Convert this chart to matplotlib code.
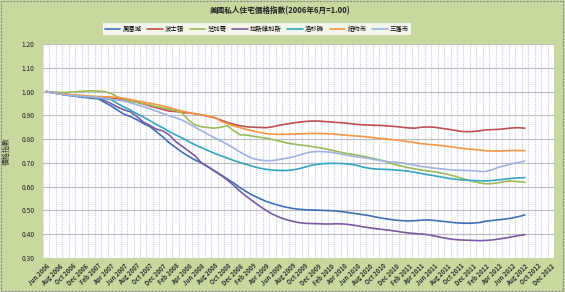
import matplotlib
matplotlib.use("Agg")
import matplotlib.pyplot as plt
from matplotlib.patches import Rectangle
from matplotlib.ticker import FixedLocator, MultipleLocator

plt.rcParams['font.family'] = ['Noto Sans CJK TC', 'DejaVu Sans']

title = "美國私人住宅價格指數(2006年6月=1.00)"
ylabel = "價格指數"

# category axis: Jun 2006 .. Dec 2012 (79 months); labels every 2nd month
tick_labels = ["Jun 2006", "Aug 2006", "Oct 2006", "Dec 2006",
               "Feb 2007", "Apr 2007", "Jun 2007", "Aug 2007", "Oct 2007", "Dec 2007",
               "Feb 2008", "Apr 2008", "Jun 2008", "Aug 2008", "Oct 2008", "Dec 2008",
               "Feb 2009", "Apr 2009", "Jun 2009", "Aug 2009", "Oct 2009", "Dec 2009",
               "Feb 2010", "Apr 2010", "Jun 2010", "Aug 2010", "Oct 2010", "Dec 2010",
               "Feb 2011", "Apr 2011", "Jun 2011", "Aug 2011", "Oct 2011", "Dec 2011",
               "Feb 2012", "Apr 2012", "Jun 2012", "Aug 2012", "Oct 2012", "Dec 2012"]
n_categories = 79

series_names = ["鳳凰城", "波士頓", "芝加哥", "拉斯維加斯", "洛杉磯", "紐約市", "三藩市"]

phoenix = [1.000, 0.995, 0.990, 0.985, 0.982, 0.978, 0.975, 0.972, 0.970, 0.955,
           0.940, 0.922, 0.905, 0.895, 0.882, 0.866, 0.853, 0.832, 0.810, 0.785,
           0.765, 0.745, 0.728, 0.712, 0.700, 0.684, 0.667, 0.650, 0.632, 0.615,
           0.595, 0.578, 0.563, 0.550, 0.538, 0.529, 0.521, 0.514, 0.509, 0.505,
           0.503, 0.502, 0.501, 0.500, 0.499, 0.497, 0.494, 0.490, 0.486, 0.482,
           0.478, 0.472, 0.467, 0.463, 0.459, 0.457, 0.456, 0.457, 0.459, 0.460,
           0.458, 0.455, 0.452, 0.449, 0.447, 0.446, 0.447, 0.449, 0.455, 0.458,
           0.461, 0.464, 0.468, 0.474, 0.481]

boston = [1.000, 0.995, 0.990, 0.987, 0.984, 0.982, 0.980, 0.978, 0.976, 0.975,
          0.973, 0.970, 0.966, 0.960, 0.955, 0.948, 0.940, 0.932, 0.925, 0.918,
          0.916, 0.912, 0.910, 0.907, 0.902, 0.896, 0.890, 0.880, 0.870, 0.862,
          0.856, 0.852, 0.850, 0.849, 0.848, 0.852, 0.858, 0.863, 0.867, 0.871,
          0.874, 0.876, 0.876, 0.874, 0.872, 0.870, 0.868, 0.865, 0.862, 0.860,
          0.859, 0.858, 0.857, 0.855, 0.853, 0.850, 0.847, 0.846, 0.850, 0.851,
          0.850, 0.846, 0.842, 0.838, 0.833, 0.831, 0.832, 0.835, 0.839, 0.840,
          0.841, 0.844, 0.847, 0.848, 0.846]

chicago = [1.000, 0.998, 0.996, 0.996, 0.998, 1.000, 1.002, 1.003, 1.002, 1.000,
           0.992, 0.978, 0.968, 0.960, 0.955, 0.950, 0.944, 0.937, 0.932, 0.926,
           0.920, 0.910, 0.880, 0.860, 0.852, 0.849, 0.846, 0.850, 0.856, 0.835,
           0.818, 0.817, 0.812, 0.808, 0.804, 0.798, 0.792, 0.785, 0.780, 0.776,
           0.773, 0.769, 0.765, 0.760, 0.754, 0.748, 0.742, 0.737, 0.733, 0.728,
           0.722, 0.716, 0.710, 0.700, 0.692, 0.686, 0.680, 0.675, 0.670, 0.666,
           0.663, 0.658, 0.652, 0.645, 0.637, 0.629, 0.622, 0.616, 0.612, 0.613,
           0.617, 0.622, 0.624, 0.621, 0.618]

las_vegas = [1.000, 0.996, 0.992, 0.988, 0.985, 0.982, 0.979, 0.976, 0.974, 0.962,
             0.950, 0.935, 0.923, 0.915, 0.895, 0.872, 0.858, 0.842, 0.835, 0.818,
             0.790, 0.770, 0.750, 0.730, 0.700, 0.683, 0.666, 0.648, 0.628, 0.605,
             0.580, 0.558, 0.538, 0.518, 0.500, 0.484, 0.472, 0.462, 0.455, 0.449,
             0.446, 0.445, 0.444, 0.443, 0.443, 0.444, 0.443, 0.440, 0.436, 0.431,
             0.427, 0.423, 0.420, 0.417, 0.413, 0.409, 0.405, 0.403, 0.401, 0.398,
             0.393, 0.387, 0.382, 0.378, 0.376, 0.375, 0.374, 0.373, 0.374, 0.376,
             0.380, 0.384, 0.389, 0.394, 0.398]

los_angeles = [1.000, 0.996, 0.992, 0.988, 0.985, 0.982, 0.979, 0.976, 0.974, 0.970,
               0.966, 0.950, 0.935, 0.922, 0.907, 0.893, 0.878, 0.862, 0.848, 0.832,
               0.818, 0.805, 0.790, 0.776, 0.764, 0.752, 0.740, 0.730, 0.720, 0.710,
               0.701, 0.693, 0.685, 0.678, 0.673, 0.670, 0.668, 0.668, 0.670, 0.675,
               0.682, 0.690, 0.694, 0.697, 0.698, 0.698, 0.697, 0.694, 0.690, 0.682,
               0.677, 0.674, 0.673, 0.672, 0.670, 0.668, 0.665, 0.660, 0.655, 0.650,
               0.646, 0.641, 0.636, 0.632, 0.629, 0.627, 0.626, 0.625, 0.624, 0.626,
               0.629, 0.632, 0.635, 0.637, 0.638]

new_york = [1.000, 0.996, 0.992, 0.989, 0.987, 0.985, 0.983, 0.981, 0.979, 0.978,
            0.977, 0.975, 0.972, 0.967, 0.961, 0.956, 0.951, 0.946, 0.940, 0.933,
            0.925, 0.918, 0.912, 0.906, 0.902, 0.898, 0.892, 0.875, 0.865, 0.855,
            0.848, 0.840, 0.834, 0.828, 0.823, 0.821, 0.820, 0.820, 0.821, 0.822,
            0.823, 0.824, 0.824, 0.823, 0.822, 0.820, 0.817, 0.815, 0.813, 0.811,
            0.808, 0.805, 0.802, 0.799, 0.796, 0.793, 0.789, 0.785, 0.781, 0.778,
            0.776, 0.773, 0.770, 0.766, 0.762, 0.759, 0.757, 0.754, 0.751, 0.750,
            0.750, 0.751, 0.752, 0.752, 0.751]

san_francisco = [1.000, 0.995, 0.990, 0.986, 0.983, 0.981, 0.979, 0.977, 0.975, 0.972,
                 0.968, 0.964, 0.960, 0.953, 0.945, 0.937, 0.928, 0.918, 0.908, 0.898,
                 0.890, 0.880, 0.866, 0.850, 0.835, 0.820, 0.806, 0.792, 0.778, 0.762,
                 0.745, 0.730, 0.718, 0.712, 0.709, 0.710, 0.714, 0.719, 0.724, 0.732,
                 0.740, 0.746, 0.748, 0.747, 0.745, 0.740, 0.735, 0.730, 0.726, 0.722,
                 0.718, 0.713, 0.708, 0.704, 0.703, 0.700, 0.695, 0.690, 0.685, 0.681,
                 0.678, 0.675, 0.672, 0.670, 0.669, 0.668, 0.667, 0.664, 0.664, 0.672,
                 0.682, 0.689, 0.696, 0.702, 0.708]

all_series = [phoenix, boston, chicago, las_vegas, los_angeles, new_york, san_francisco]
colors = ["#3f6fb5", "#c0504d", "#9bbb59", "#7a5a9e", "#35a5c1", "#f79646", "#9fb3e0"]

W, H = 565, 292
fig = plt.figure(figsize=(W / 100, H / 100), dpi=100)
fig.patch.set_facecolor("#c8d9a0")
fig.patches.append(Rectangle((0.002, 0.003), 0.995, 0.993, transform=fig.transFigure,
                             fill=False, edgecolor="#8a8a8a", linewidth=0.8, linestyle=(0, (2, 1))))

left, right, top, bottom = 43, 554, 44, 258
ax = fig.add_axes([left / W, 1 - bottom / H, (right - left) / W, (bottom - top) / H])
ax.set_facecolor("white")

for name, vals, c in zip(series_names, all_series, colors):
    ax.plot(range(len(vals)), vals, color=c, linewidth=1.2, label=name, solid_capstyle="round")

ax.set_xlim(-0.5, n_categories - 0.5)
ax.set_ylim(0.30, 1.20)
ax.yaxis.set_major_locator(MultipleLocator(0.10))
ax.set_yticklabels([f"{v:.2f}" for v in ax.get_yticks()])
ax.tick_params(axis="y", labelsize=4.8, length=0, pad=6, colors="#222222")

ax.set_xticks(range(0, n_categories, 2))
ax.set_xticklabels(tick_labels, rotation=45, ha="right", va="top",
                   rotation_mode="anchor", fontsize=4.4, fontweight="bold", color="#333333")
ax.tick_params(axis="x", length=0, pad=3)
ax.xaxis.set_minor_locator(FixedLocator([k - 0.5 for k in range(n_categories + 1)]))
ax.tick_params(axis="x", which="minor", length=0)

ax.grid(True, axis="y", which="major", color="#bdbdbd", linewidth=0.8)
ax.grid(True, axis="x", which="minor", color="#c2c8f2", linewidth=0.8, linestyle=(0, (1, 1)))
ax.grid(False, axis="x", which="major")
ax.set_axisbelow(True)
for s in ax.spines.values():
    s.set_visible(False)

ax.set_ylabel(ylabel, fontsize=5, color="#333333", labelpad=8)

fig.text(280 / W, 1 - 11 / H, title, ha="center", va="center", fontsize=5.5,
         fontweight="bold", color="#222222")

leg = fig.legend(loc="center", bbox_to_anchor=(257 / W, 1 - 29 / H), ncol=7,
                 fontsize=4.6, frameon=True, fancybox=False, handlelength=2.4,
                 columnspacing=0.9, handletextpad=0.35, borderpad=0.35)
leg.get_frame().set_edgecolor("white")
leg.get_frame().set_facecolor("white")
leg.get_frame().set_linewidth(0)

fig.savefig("out.png", dpi=100, facecolor=fig.get_facecolor())
